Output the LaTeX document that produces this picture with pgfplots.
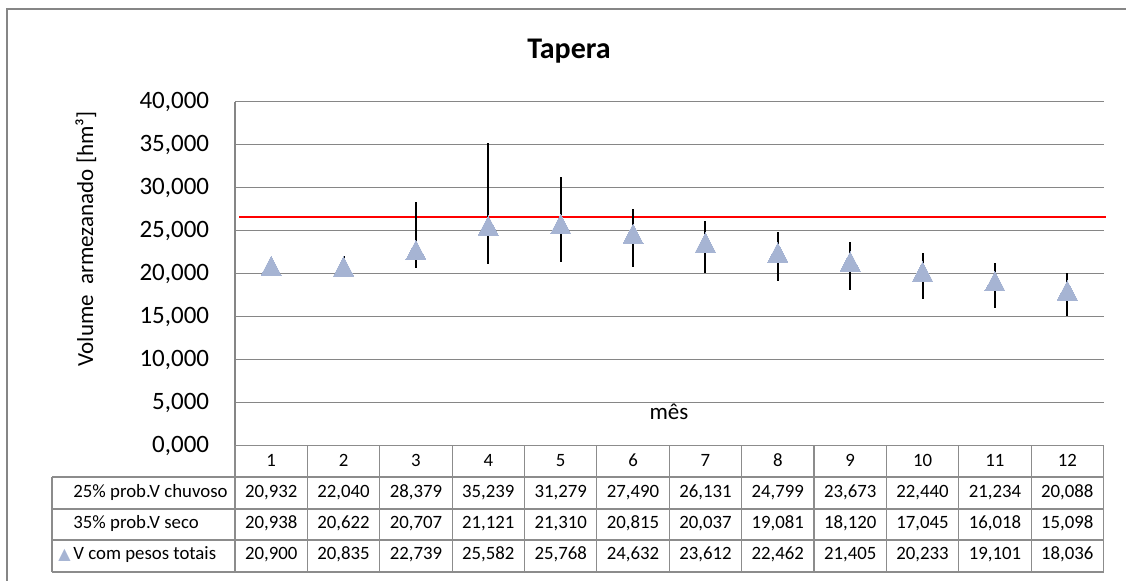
\documentclass[border=0pt]{standalone}
\usepackage{pgfplots}
\pgfplotsset{compat=1.18}
\usepackage{pgfplotstable}
\usepackage{fontspec}
\setmainfont{Carlito}
\newfontfamily\dejavu{DejaVu Sans}
\definecolor{gridgray}{RGB}{134,134,134}
\definecolor{framegray}{RGB}{134,134,134}
\definecolor{tabgray}{RGB}{140,140,140}
\definecolor{mkblue}{RGB}{166,180,211}

\pgfplotstableread{
m chuv seco V
1 20.932 20.938 20.900
2 22.040 20.622 20.835
3 28.379 20.707 22.739
4 35.239 21.121 25.582
5 31.279 21.310 25.768
6 27.490 20.815 24.632
7 26.131 20.037 23.612
8 24.799 19.081 22.462
9 23.673 18.120 21.405
10 22.440 17.045 20.233
11 21.234 16.018 19.101
12 20.088 15.098 18.036
}\dados

\begin{document}
\begin{tikzpicture}
\useasboundingbox (0pt,0pt) rectangle (563pt,-290.5pt);
\begin{scope}[x=0.5pt,y=-0.5pt]
\draw[framegray, line width=1pt] (7,582) -- (7,9) -- (1127,9);
\end{scope}
\begin{axis}[
  at={(117.5pt,-222.75pt)}, anchor=south west,
  width=434.25pt, height=171.9pt, scale only axis,
  xmin=0.5, xmax=12.5, ymin=0, ymax=40,
  clip=false,
  axis x line*=bottom, axis y line*=left,
  axis line style={gridgray, line width=0.6pt, -},
  xtick=\empty,
  ytick={0,5,10,15,20,25,30,35,40},
  yticklabels={{0,000},{5,000},{10,000},{15,000},{20,000},{25,000},{30,000},{35,000},{40,000}},
  major tick length=0pt,
  ymajorgrids, grid style={gridgray, line width=0.6pt},
  yticklabel style={font=\fontsize{12.5}{14}\selectfont, inner sep=0pt, xshift=-12.75pt, anchor=east},
]
\addplot[red, line width=0.75pt, mark=none] coordinates {(0.56,26.6) (12.53,26.6)};
\addplot[draw=none, mark=none,
  error bars/.cd, y dir=both, y explicit, error mark=none,
  error bar style={black, line width=1pt}]
  table[x=m, y=V,
        y error plus expr=\thisrow{chuv}-\thisrow{V},
        y error minus expr=\thisrow{V}-\thisrow{seco}] {\dados};
\addplot[only marks, color=mkblue, mark=triangle*, mark size=5.8pt,
  mark options={fill=mkblue, draw=mkblue, line width=0pt, yshift=-1.6pt, yscale=1.11}]
  table[x=m, y=V] {\dados};
\end{axis}
\begin{scope}[x=0.5pt,y=-0.5pt]
% title and axis titles
\node[anchor=base, inner sep=0pt, font=\bfseries\fontsize{15}{18}\selectfont] at (569,58.3) {Tapera};
\node[rotate=90, anchor=base, inner sep=0pt, font=\fontsize{11.5}{13}\selectfont] at (93,239) {Volume\ \ armezanado [hm³]};
\node[anchor=base, inner sep=0pt, font=\fontsize{11.5}{13}\selectfont] at (669,420) {mês};
% table grid
\draw[tabgray, line width=0.6pt] (235,445.5) -- (1103.5,445.5);
\draw[tabgray, line width=0.6pt] (52,477) -- (1103.5,477);
\draw[tabgray, line width=0.6pt] (52,509) -- (1103.5,509);
\draw[tabgray, line width=0.6pt] (52,540) -- (1103.5,540);
\draw[tabgray, line width=0.6pt] (52,572) -- (1103.5,572);
\draw[tabgray, line width=0.6pt] (52,477) -- (52,572);
\foreach \i in {0,...,12} {
  \draw[tabgray, line width=0.6pt] ({235+\i*72.375},445.5) -- ({235+\i*72.375},572);
}
% header
\foreach \i in {1,...,12} {
  \node[anchor=base, inner sep=0pt, font=\fontsize{9.4}{11}\selectfont] at ({235+(\i-0.5)*72.375},466.5) {\i};
}
% row labels
\node[anchor=base west, inner sep=0pt, font=\fontsize{9.4}{11}\selectfont] at (73,497.3) {25\% prob.V chuvoso};
\node[anchor=base west, inner sep=0pt, font=\fontsize{9.4}{11}\selectfont] at (73,528.3) {35\% prob.V seco};
\node[anchor=base west, inner sep=0pt, font=\fontsize{9.4}{11}\selectfont] at (73,560) {V com pesos totais};
\node[anchor=base east, inner sep=0pt, text=mkblue, font=\dejavu\fontsize{8}{10}\selectfont] at (71,560) {▲};
% values
\foreach \i/\a/\b/\c in {
  1/{20,932}/{20,938}/{20,900},
  2/{22,040}/{20,622}/{20,835},
  3/{28,379}/{20,707}/{22,739},
  4/{35,239}/{21,121}/{25,582},
  5/{31,279}/{21,310}/{25,768},
  6/{27,490}/{20,815}/{24,632},
  7/{26,131}/{20,037}/{23,612},
  8/{24,799}/{19,081}/{22,462},
  9/{23,673}/{18,120}/{21,405},
  10/{22,440}/{17,045}/{20,233},
  11/{21,234}/{16,018}/{19,101},
  12/{20,088}/{15,098}/{18,036}} {
  \node[anchor=base, inner sep=0pt, font=\fontsize{9.4}{11}\selectfont] at ({235+(\i-0.5)*72.375},497.3) {\a};
  \node[anchor=base, inner sep=0pt, font=\fontsize{9.4}{11}\selectfont] at ({235+(\i-0.5)*72.375},528.3) {\b};
  \node[anchor=base, inner sep=0pt, font=\fontsize{9.4}{11}\selectfont] at ({235+(\i-0.5)*72.375},560) {\c};
}
\end{scope}
\end{tikzpicture}
\end{document}
